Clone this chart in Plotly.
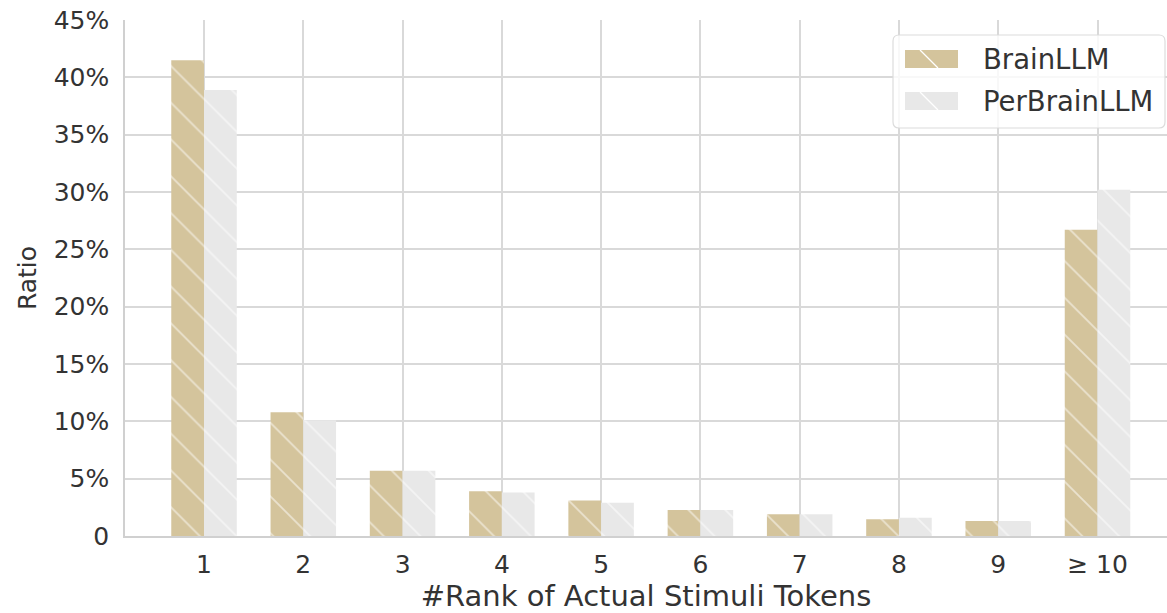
import plotly.graph_objects as go

categories = ["1", "2", "3", "4", "5", "6", "7", "8", "9", "≥ 10"]
brainllm = [41.5, 10.8, 5.7, 3.9, 3.1, 2.26, 1.89, 1.45, 1.31, 26.7]
perbrainllm = [38.9, 10.1, 5.7, 3.8, 2.9, 2.26, 1.89, 1.6, 1.31, 30.2]
series_names = ["BrainLLM", "PerBrainLLM"]
series_colors = ["#d4c49c", "#e8e8e8"]
ytick_vals = [0, 5, 10, 15, 20, 25, 30, 35, 40, 45]
ytick_text = ["0", "5%", "10%", "15%", "20%", "25%", "30%", "35%", "40%", "45%"]

xpos = list(range(len(categories)))
font_color = "#333333"

W, H = 1167, 613
ML, MR, MT, MB = 125, 0, 20, 77
PW, PH = W - ML - MR, H - MT - MB


def px(x):
    return (x - ML) / PW


def py(y):
    return (H - MB - y) / PH


fig = go.Figure()
for name, vals, col in zip(series_names, [brainllm, perbrainllm], series_colors):
    fig.add_trace(go.Bar(
        x=xpos, y=vals, name=name, showlegend=False,
        marker=dict(color=col, line=dict(width=0),
                    pattern=dict(shape="\\", fgcolor="#ffffff", bgcolor=col,
                                 size=26, solidity=0.07, fillmode="overlay")),
    ))

# custom legend (matplotlib-like)
shapes = []
x0, x1, y0, y1, r = 893, 1165, 35, 128, 6
path = (f"M {px(x0 + r)},{py(y0)} L {px(x1 - r)},{py(y0)} Q {px(x1)},{py(y0)} {px(x1)},{py(y0 + r)} "
        f"L {px(x1)},{py(y1 - r)} Q {px(x1)},{py(y1)} {px(x1 - r)},{py(y1)} "
        f"L {px(x0 + r)},{py(y1)} Q {px(x0)},{py(y1)} {px(x0)},{py(y1 - r)} "
        f"L {px(x0)},{py(y0 + r)} Q {px(x0)},{py(y0)} {px(x0 + r)},{py(y0)} Z")
shapes.append(dict(type="path", path=path, xref="paper", yref="paper",
                   fillcolor="rgba(255,255,255,0.8)", line=dict(color="#dcdcdc", width=1.2),
                   layer="above"))
annotations = []
for i, (name, col) in enumerate(zip(series_names, series_colors)):
    sy0 = 50 + i * 42
    sy1 = sy0 + 18
    shapes.append(dict(type="rect", xref="paper", yref="paper",
                       x0=px(905), x1=px(958), y0=py(sy1), y1=py(sy0),
                       fillcolor=col, line=dict(width=0), layer="above"))
    shapes.append(dict(type="line", xref="paper", yref="paper",
                       x0=px(920), x1=px(938), y0=py(sy0), y1=py(sy1),
                       line=dict(color="white", width=1.3), layer="above"))
    annotations.append(dict(text=name, xref="paper", yref="paper",
                            x=px(981), y=py((sy0 + sy1) / 2), xanchor="left", yanchor="middle",
                            showarrow=False, font=dict(size=27.5, color=font_color)))

fig.update_layout(
    width=W, height=H,
    margin=dict(l=ML, r=MR, t=MT, b=MB),
    paper_bgcolor="white", plot_bgcolor="white",
    barmode="group", bargap=0.34, bargroupgap=0,
    font=dict(family="DejaVu Sans", size=25, color=font_color),
    showlegend=False,
    shapes=shapes, annotations=annotations,
    xaxis=dict(
        range=[-0.796, 9.70], tickmode="array", tickvals=xpos, ticktext=categories,
        showgrid=True, gridcolor="#d9d9d9", gridwidth=1.5,
        showline=True, linecolor="#d0d0d0", linewidth=1.5,
        ticks="outside", ticklen=5, tickcolor="rgba(0,0,0,0)", zeroline=False,
        automargin=False,
        title=dict(text="#Rank of Actual Stimuli Tokens", font=dict(size=29, color=font_color), standoff=11),
        tickfont=dict(size=25, color=font_color),
    ),
    yaxis=dict(
        range=[0, 45], tickmode="array", tickvals=ytick_vals, ticktext=ytick_text,
        showgrid=True, gridcolor="#d9d9d9", gridwidth=1.5,
        showline=True, linecolor="#d0d0d0", linewidth=1.5,
        ticks="outside", ticklen=9, tickcolor="rgba(0,0,0,0)", zeroline=False,
        automargin=False,
        title=dict(text="Ratio", font=dict(size=25, color=font_color), standoff=10),
        tickfont=dict(size=25, color=font_color),
    ),
)

fig.write_html("out.html", config={"displayModeBar": False},
               post_script="document.body.style.margin='0';document.body.style.overflow='hidden';")
